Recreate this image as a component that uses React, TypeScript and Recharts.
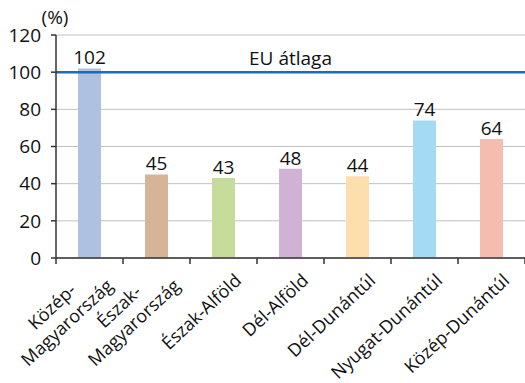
import React from 'react'
import { BarChart, Bar, XAxis, YAxis, CartesianGrid, ReferenceLine, LabelList, Cell } from 'recharts'

// régiók, az ábrán elforgatott, helyenként kétsoros felirattal
const regions = [
  'Közép-\nMagyarország',
  'Észak-\nMagyarország',
  'Észak-Alföld',
  'Dél-Alföld',
  'Dél-Dunántúl',
  'Nyugat-Dunántúl',
  'Közép-Dunántúl',
]
const values = [102, 45, 43, 48, 44, 74, 64]
const barColors = ['#aec1e1', '#d5b497', '#c6dc9a', '#d0b3d4', '#fddead', '#a4daf3', '#f5bcb0']
const yTicks = [0, 20, 40, 60, 80, 100, 120]
const euAverage = 100

const W = 525
const H = 383
const LEFT = 56
const BAND = (W - LEFT) / regions.length
const FONT = '"Open Sans", "Noto Sans", sans-serif'
const FS = 19
const TICK_FS = 18
const LH = 22
const ANGLE = -43

const data = regions.map((region, i) => ({ region, value: values[i] }))

const AngledTick = (props: any) => {
  const { x, y, payload, index } = props
  const lines: string[] = String(payload.value).split('\n')
  const multi = lines.length > 1
  // az utolsó (leghosszabb) sor vége a horgonypont, a többi sor középre igazítva
  const longest = Math.max(...lines.map((l) => l.length))
  const w = longest * TICK_FS * 0.56
  const dx = multi ? 26 : 19
  const dy = multi ? 28 : 24
  return (
    <g>
      <line x1={x - BAND / 2} x2={x - BAND / 2} y1={y} y2={y + 6} stroke="#333" strokeWidth={1.5} />
      {index === regions.length - 1 && (
        <line x1={x + BAND / 2} x2={x + BAND / 2} y1={y} y2={y + 6} stroke="#333" strokeWidth={1.5} />
      )}
      <g transform={`translate(${x + dx},${y + dy}) rotate(${ANGLE})`}>
        {lines.map((line, i) => (
          <text
            key={i}
            x={multi ? -w / 2 : 0}
            y={(i - (lines.length - 1)) * LH}
            textAnchor={multi ? 'middle' : 'end'}
            fontSize={TICK_FS}
            fontFamily={FONT}
            fill="#111"
          >
            {line}
          </text>
        ))}
      </g>
    </g>
  )
}

const UnitLabel = (props: any) => {
  const { viewBox } = props
  return (
    <text
      x={viewBox.x + viewBox.width - 1}
      y={viewBox.y - 11}
      textAnchor="middle"
      fontSize={FS}
      fontFamily={FONT}
      fill="#111"
    >
      (%)
    </text>
  )
}

export default function App() {
  return (
    <div style={{ position: 'absolute', left: 0, top: 0, background: '#fff' }}>
      <BarChart
        width={W}
        height={H}
        data={data}
        margin={{ top: 35, right: 0, bottom: 0, left: 0 }}
        barCategoryGap={0}
      >
        <CartesianGrid vertical={false} stroke="#c0c0c0" strokeWidth={1} />
        <XAxis
          dataKey="region"
          interval={0}
          height={125}
          tickSize={0}
          tickMargin={0}
          tickLine={false}
          axisLine={{ stroke: '#333', strokeWidth: 1.5 }}
          tick={<AngledTick />}
        />
        <YAxis
          width={LEFT}
          domain={[0, 120]}
          ticks={yTicks}
          interval={0}
          tickSize={5}
          tickMargin={10}
          axisLine={{ stroke: '#333', strokeWidth: 1.5 }}
          tickLine={{ stroke: '#333', strokeWidth: 1.5 }}
          tick={{ fill: '#111', fontSize: FS, fontFamily: FONT }}
          label={<UnitLabel />}
        />
        <Bar dataKey="value" barSize={23} isAnimationActive={false}>
          {values.map((_, i) => (
            <Cell key={i} fill={barColors[i]} />
          ))}
          <LabelList dataKey="value" position="top" offset={4} fill="#111" fontSize={FS} fontFamily={FONT} />
        </Bar>
        <ReferenceLine
          y={euAverage}
          stroke="#1c6db6"
          strokeWidth={2.5}
          label={{ value: 'EU átlaga', position: 'top', offset: 7, fill: '#111', fontSize: FS, fontFamily: FONT }}
        />
      </BarChart>
    </div>
  )
}
